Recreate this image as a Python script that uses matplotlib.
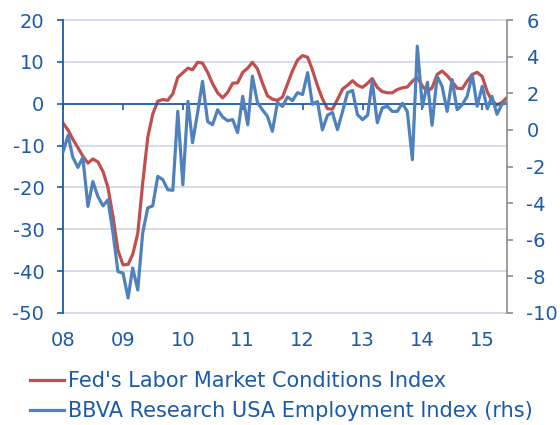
import matplotlib
matplotlib.use("Agg")
import matplotlib.pyplot as plt
import matplotlib.dates as mdates
import pandas as pd

plt.rcParams['font.family'] = ['DejaVu Sans']
plt.rcParams['axes.unicode_minus'] = False

# monthly, Jan 2008 - Jun 2015
dates = pd.date_range('2008-01-01', periods=90, freq='MS')

lmci = [-4.6, -6.3, -8.5, -10.5, -12.5, -14.2, -13.2, -13.9, -16.2, -20.0,
        -27.0, -35.0, -38.5, -38.4, -36.0, -31.0, -19.0, -8.0, -2.5, 0.6,
        1.0, 0.8, 2.4, 6.3, 7.4, 8.5, 8.1, 9.9, 9.7, 7.5,
        4.8, 2.6, 1.4, 2.7, 4.9, 5.0, 7.5, 8.5, 9.9, 8.3,
        5.0, 1.9, 1.1, 0.8, 1.6, 4.7, 7.9, 10.4, 11.5, 11.1,
        8.1, 4.3, 1.2, -1.2, -1.3, 1.0, 3.5, 4.4, 5.5, 4.4,
        3.9, 4.9, 6.0, 3.9, 2.9, 2.6, 2.6, 3.4, 3.8, 4.0,
        5.4, 6.3, 4.2, 2.9, 3.8, 7.0, 7.8, 6.7, 5.3, 3.7,
        3.6, 5.4, 7.0, 7.5, 6.5, 2.8, 0.7, -0.3, 0.3, 1.5]

bbva = [-1.2, -0.3, -1.5, -2.05, -1.5, -4.18, -2.82, -3.64, -4.15, -3.82,
        -5.63, -7.74, -7.82, -9.18, -7.54, -8.74, -5.63, -4.26, -4.15, -2.54,
        -2.72, -3.27, -3.3, 1.01, -3.0, 1.56, -0.7, 0.94, 2.65, 0.46,
        0.28, 1.1, 0.7, 0.5, 0.56, -0.15, 1.83, 0.28, 2.93, 1.49,
        1.1, 0.74, -0.08, 1.49, 1.28, 1.8, 1.6, 2.03, 1.93, 3.13,
        1.4, 1.55, 0.0, 0.8, 0.95, 0.01, 1.0, 2.03, 2.15, 0.83,
        0.56, 0.8, 2.65, 0.39, 1.2, 1.29, 1.01, 1.01, 1.45, 1.0,
        -1.63, 4.57, 1.25, 2.6, 0.25, 2.93, 2.38, 1.01, 2.75, 1.1,
        1.38, 1.83, 3.02, 1.29, 2.38, 1.15, 1.83, 0.85, 1.4, 1.5]

left_ticks = [20, 10, 0, -10, -20, -30, -40, -50]
right_ticks = [6, 4, 2, 0, -2, -4, -6, -8, -10]

txt = '#1B5AAB'
red = '#C0504D'
blue = '#4F81BD'
grid_c = '#C9D2E6'

fig = plt.figure(figsize=(5.6, 4.25), dpi=100)
ax = fig.add_axes([63/560, 1-313/425, 444/560, 293/425])
ax2 = ax.twinx()

l1, = ax.plot(dates, lmci, color=red, lw=2.3, label="Fed's Labor Market Conditions Index")
l2, = ax2.plot(dates, bbva, color=blue, lw=2.3, label='BBVA Research USA Employment Index (rhs)')

ax.set_xlim(dates[0], dates[-1])
ax.set_ylim(-50, 20)
ax.set_yticks(left_ticks)
ax2.set_ylim(-10, 6)
ax2.set_yticks(right_ticks)

# light gridlines, except the zero line which is the x axis
for v in left_ticks:
    if v != 0:
        ax.axhline(v, color=grid_c, lw=1.1, zorder=0, clip_on=False)

for s in ['top', 'right']:
    ax.spines[s].set_visible(False)
for s in ['top', 'bottom', 'left']:
    ax2.spines[s].set_visible(False)
ax.spines['left'].set_color(txt)
ax.spines['left'].set_linewidth(1.3)
ax.spines['bottom'].set_position(('data', 0))
ax.spines['bottom'].set_color(txt)
ax.spines['bottom'].set_linewidth(1.3)
ax2.spines['right'].set_color('#8C8C8C')
ax2.spines['right'].set_linewidth(1.2)

ax.xaxis.set_major_locator(mdates.YearLocator())
ax.tick_params(axis='x', direction='out', length=4.5, width=1.2, color=txt, labelbottom=False)
ax.tick_params(axis='y', direction='out', length=4.5, width=1.2, color=txt,
               labelcolor=txt, labelsize=14, pad=9)
ax2.tick_params(axis='y', direction='out', length=4, width=1.2, color='#8C8C8C',
                labelcolor=txt, labelsize=14, pad=10)

# year labels sit below the plot area
sec = ax.secondary_xaxis(0)
sec.xaxis.set_major_locator(mdates.YearLocator())
sec.xaxis.set_major_formatter(mdates.DateFormatter('%y'))
sec.tick_params(length=0, labelcolor=txt, labelsize=14, pad=13)
sec.spines['bottom'].set_visible(False)

leg = fig.legend(handles=[l1, l2], loc='upper left', bbox_to_anchor=(30/560, 1-371/425),
                 frameon=False, fontsize=15, handlelength=1.65, handletextpad=0.15,
                 labelspacing=0.5, borderaxespad=0, borderpad=0)
for t in leg.get_texts():
    t.set_color(txt)

fig.savefig('out.png', dpi=100)
